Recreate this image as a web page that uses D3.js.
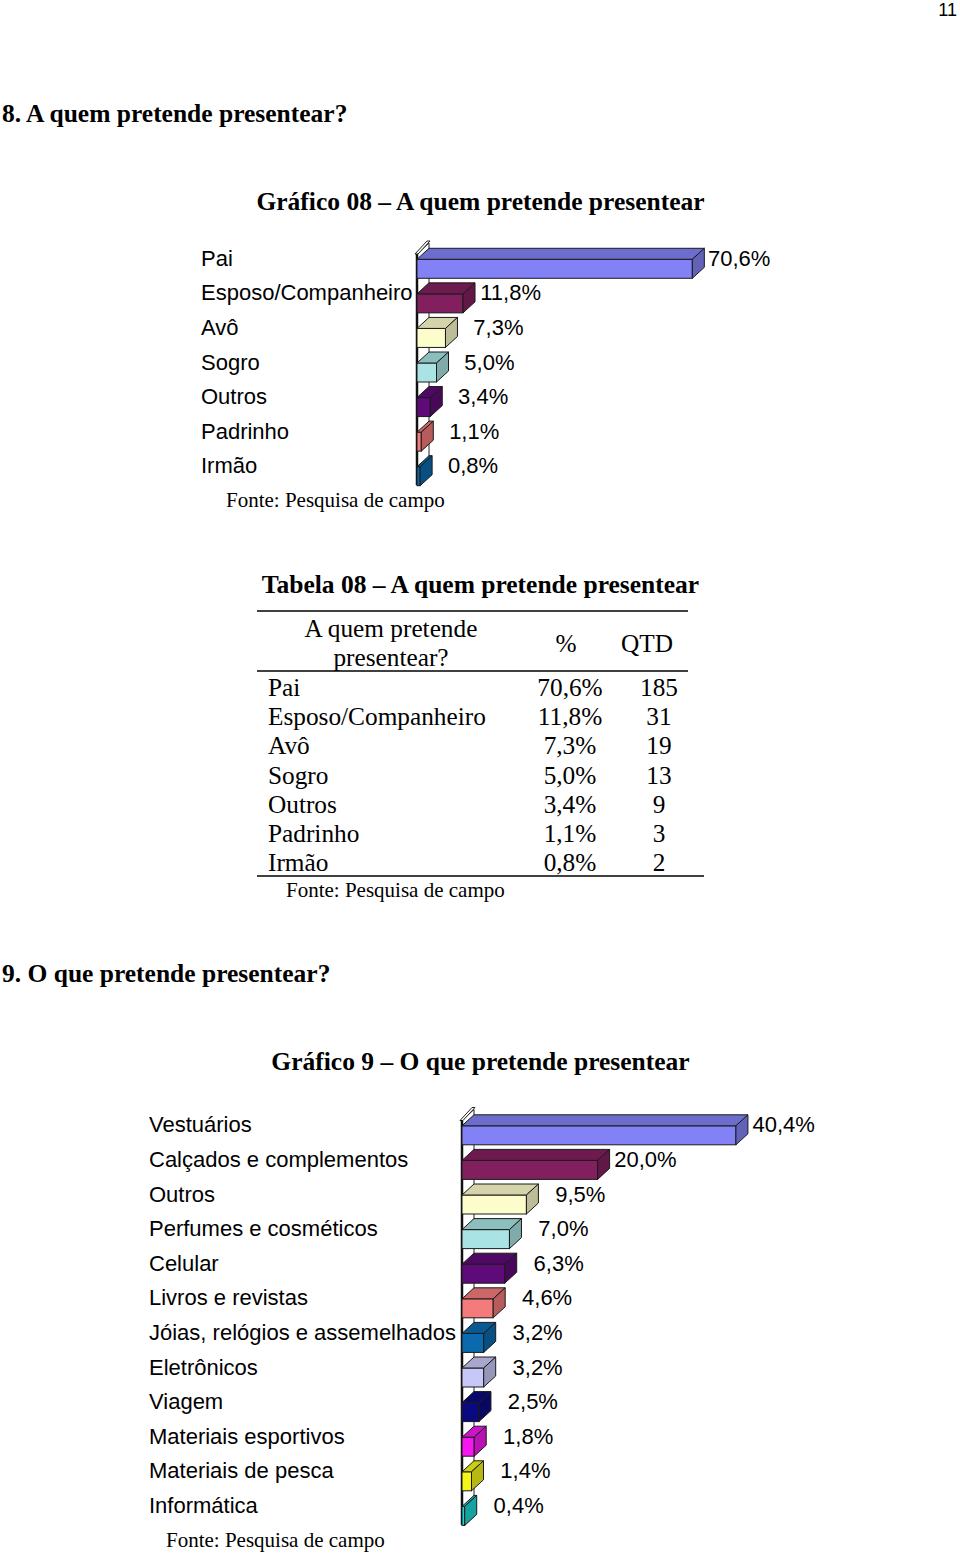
<!DOCTYPE html>
<html>
<head>
<meta charset="utf-8">
<script src="https://cdn.jsdelivr.net/npm/d3@7"></script>
<style>
  body { margin: 0; background: #fff; }
  svg text { fill: #000; }
  .serif { font-family: "Liberation Serif", "Times New Roman", serif; }
  .sans { font-family: "Liberation Sans", Arial, sans-serif; }
</style>
</head>
<body>
<svg id="page" width="960" height="1555"></svg>
<script>
// chart 08 data
const giftToCategories = ['Pai', 'Esposo/Companheiro', 'Avô', 'Sogro', 'Outros', 'Padrinho', 'Irmão'];
const giftToValues = [70.6, 11.8, 7.3, 5.0, 3.4, 1.1, 0.8];
const giftToQtd = [185, 31, 19, 13, 9, 3, 2];

// chart 9 data
const giftWhatCategories = ['Vestuários', 'Calçados e complementos', 'Outros', 'Perfumes e cosméticos', 'Celular',
  'Livros e revistas', 'Jóias, relógios e assemelhados', 'Eletrônicos', 'Viagem', 'Materiais esportivos',
  'Materiais de pesca', 'Informática'];
const giftWhatValues = [40.4, 20.0, 9.5, 7.0, 6.3, 4.6, 3.2, 3.2, 2.5, 1.8, 1.4, 0.4];

// series colours (excel style palette)
const barColors = ['#8282f6', '#82205f', '#fdfccb', '#a9e3e3', '#5e0a78', '#f47b7b', '#0b6aae',
  '#c8c8f8', '#0a0a80', '#f517f0', '#f5f518', '#1ed8d8'];

const tableHeader = ['A quem pretende', 'presentear?', '%', 'QTD'];
const sourceText = 'Fonte: Pesquisa de campo';

const pct = (v) => d3.format('.1f')(v).replace('.', ',') + '%';

const svg = d3.select('#page');

function addText(txt, x, y, opts = {}) {
  return svg.append('text')
    .attr('class', opts.cls || 'serif')
    .attr('x', x)
    .attr('y', y)
    .attr('dominant-baseline', 'central')
    .attr('text-anchor', opts.anchor || 'start')
    .style('font-size', (opts.size || 25.3) + 'px')
    .style('font-weight', opts.bold ? 'bold' : 'normal')
    .text(txt);
}

// draws a horizontal 3d bar chart like the old excel ones
function barChart3d(categories, values, opt) {
  const dx = 12, dy = 11, h = 19;

  const x = d3.scaleLinear()
    .domain([0, 100])
    .range([opt.axisX, opt.axisX + opt.fullWidth]);

  const y = d3.scaleBand()
    .domain(categories)
    .range([opt.top, opt.bottom]);

  const g = svg.append('g');
  const x0 = x(0);
  const wallTop = opt.top + dy;
  const wallBottom = opt.bottom;

  // left wall
  g.append('polygon')
    .attr('points', [[x0, wallTop], [x0 + dx, wallTop - dy], [x0 + dx, wallBottom - dy], [x0, wallBottom]].join(' '))
    .style('fill', '#fff')
    .style('stroke', '#222')
    .style('stroke-width', 1);

  g.append('polygon')
    .attr('points', [[x0 - 2, wallTop], [x0 - 2 + dx, wallTop - dy - 2], [x0 + 1 + dx, wallTop - dy - 2], [x0 + 1, wallTop]].join(' '))
    .style('fill', '#fff')
    .style('stroke', '#222')
    .style('stroke-width', 1);

  g.append('line')
    .attr('x1', x0).attr('x2', x0)
    .attr('y1', wallTop).attr('y2', wallBottom)
    .style('stroke', '#111')
    .style('stroke-width', 2.5);

  const bars = g.selectAll('g.bar')
    .data(categories.map((c, i) => ({ cat: c, val: values[i], color: barColors[i] })))
    .enter()
    .append('g')
    .attr('class', 'bar');

  const cy = (d) => y(d.cat) + y.bandwidth() / 2;

  // front face
  bars.append('rect')
    .attr('x', x0)
    .attr('y', (d) => cy(d) - 1)
    .attr('width', (d) => x(d.val) - x0)
    .attr('height', h)
    .style('fill', (d) => d.color)
    .style('stroke', '#1a1a1a')
    .style('stroke-width', 1);

  // top face
  bars.append('polygon')
    .attr('points', (d) => {
      const t = cy(d) - 1, r = x(d.val);
      return [[x0, t], [x0 + dx, t - dy], [r + dx, t - dy], [r, t]].join(' ');
    })
    .style('fill', (d) => d3.color(d.color).darker(0.5))
    .style('stroke', '#1a1a1a')
    .style('stroke-width', 1);

  // side face
  bars.append('polygon')
    .attr('points', (d) => {
      const t = cy(d) - 1, r = x(d.val);
      return [[r, t], [r + dx, t - dy], [r + dx, t - dy + h], [r, t + h]].join(' ');
    })
    .style('fill', (d) => d3.color(d.color).darker(0.8))
    .style('stroke', '#1a1a1a')
    .style('stroke-width', 1);

  // category labels
  g.selectAll('text.cat')
    .data(categories)
    .enter()
    .append('text')
    .attr('class', 'cat sans')
    .attr('x', opt.labelX)
    .attr('y', (d) => y(d) + y.bandwidth() / 2 - 2)
    .attr('dominant-baseline', 'central')
    .style('font-size', '22px')
    .text((d) => d);

  // value labels
  bars.append('text')
    .attr('class', 'sans')
    .attr('x', (d) => x(d.val) + dx + opt.valueGap)
    .attr('y', (d) => cy(d) - 2)
    .attr('text-anchor', 'end')
    .attr('dominant-baseline', 'central')
    .style('font-size', '22px')
    .text((d) => pct(d.val));
}

// page number
addText('11', 957, 10, { cls: 'sans', anchor: 'end', size: 18 });

// section 8
addText('8. A quem pretende presentear?', 2, 113, { bold: true, size: 25.5 });
addText('Gráfico 08 – A quem pretende presentear', 480.5, 201, { bold: true, anchor: 'middle', size: 25.5 });

barChart3d(giftToCategories, giftToValues, {
  axisX: 417, fullWidth: 390, top: 243, bottom: 485, labelX: 201, valueGap: 66
});
addText(sourceText, 226, 500, { size: 21 });

// table 08
addText('Tabela 08 – A quem pretende presentear', 480.5, 584, { bold: true, anchor: 'middle', size: 25.5 });

const rule = (x1, x2, yy) => svg.append('line')
  .attr('x1', x1).attr('x2', x2).attr('y1', yy).attr('y2', yy)
  .style('stroke', '#000').style('stroke-width', 1.5);

rule(257, 688, 611);
rule(257, 688, 671);
rule(257, 704, 876);

addText(tableHeader[0], 391, 628, { anchor: 'middle' });
addText(tableHeader[1], 391, 657, { anchor: 'middle' });
addText(tableHeader[2], 566, 643, { anchor: 'middle' });
addText(tableHeader[3], 647, 643, { anchor: 'middle' });

const rowY = d3.scalePoint()
  .domain(giftToCategories)
  .range([687, 862]);

const rows = svg.append('g').selectAll('g')
  .data(giftToCategories.map((c, i) => ({ cat: c, val: giftToValues[i], qtd: giftToQtd[i] })))
  .enter()
  .append('g')
  .attr('class', 'serif')
  .style('font-size', '25.3px');

rows.append('text')
  .attr('x', 268).attr('y', (d) => rowY(d.cat))
  .attr('dominant-baseline', 'central')
  .text((d) => d.cat);

rows.append('text')
  .attr('x', 570).attr('y', (d) => rowY(d.cat))
  .attr('text-anchor', 'middle')
  .attr('dominant-baseline', 'central')
  .text((d) => pct(d.val));

rows.append('text')
  .attr('x', 659).attr('y', (d) => rowY(d.cat))
  .attr('text-anchor', 'middle')
  .attr('dominant-baseline', 'central')
  .text((d) => d.qtd);

addText(sourceText, 286, 890, { size: 21 });

// section 9
addText('9. O que pretende presentear?', 2, 973, { bold: true, size: 25.5 });
addText('Gráfico 9 – O que pretende presentear', 480.5, 1061, { bold: true, anchor: 'middle', size: 25.5 });

barChart3d(giftWhatCategories, giftWhatValues, {
  axisX: 462, fullWidth: 678, top: 1109.5, bottom: 1524.7, labelX: 149, valueGap: 67
});
addText(sourceText, 166, 1540, { size: 21 });
</script>
</body>
</html>
